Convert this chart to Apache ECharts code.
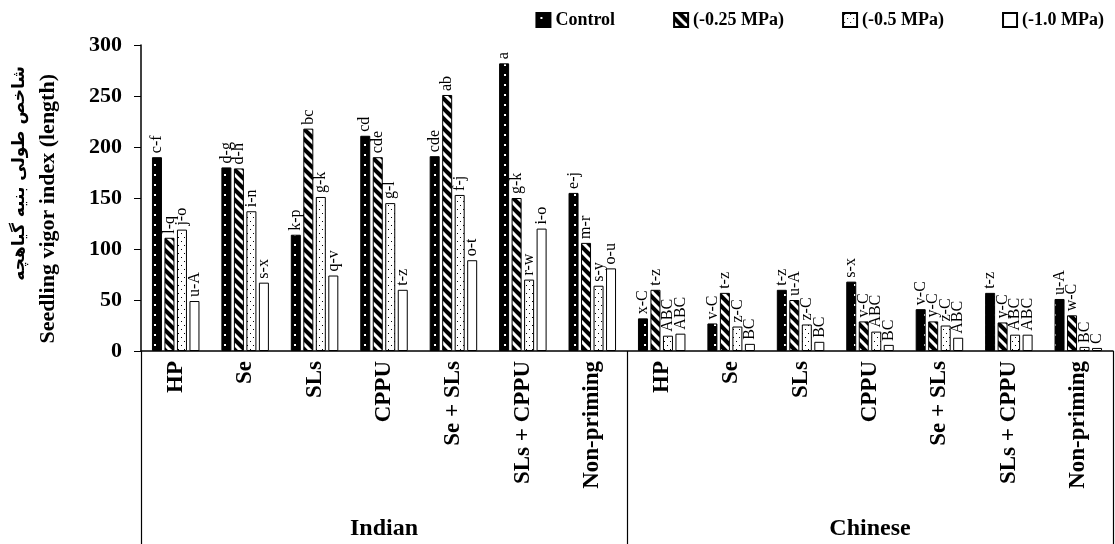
<!DOCTYPE html>
<html>
<head>
<meta charset="utf-8">
<script src="https://cdn.jsdelivr.net/npm/echarts@6/dist/echarts.min.js"></script>
<style>
  html, body { margin: 0; padding: 0; background: #fff; }
  #chart { width: 1115px; height: 544px; }
</style>
</head>
<body>
<div id="chart"></div>
<script>
var treatments = ['HP', 'Se', 'SLs', 'CPPU', 'Se + SLs', 'SLs + CPPU', 'Non-priming'];
var categories = treatments.concat(treatments);
var groups = ['Indian', 'Chinese'];

// seedling vigor index (length), Indian first then Chinese
var control = [190, 180, 114, 211, 191, 282, 155, 32, 27, 60, 68, 41, 57, 51];
var mpa025  = [111, 179, 218, 190, 251, 150, 106, 60, 57, 50, 29, 29, 28, 35];
var mpa05   = [119, 137, 151, 145, 153, 70, 64, 15, 24, 26, 19, 25, 16, 4];
var mpa10   = [49, 67, 74, 60, 89, 120, 81, 17, 7, 9, 6, 13, 16, 3];

// mean comparison letters
var letControl = ['c-f', 'd-g', 'k-p', 'cd', 'cde', 'a', 'e-j', 'x-C', 'v-C', 't-z', 's-x', 'v-C', 't-z', 'u-A'];
var let025     = ['l-q', 'd-h', 'bc', 'cde', 'ab', 'g-k', 'm-r', 't-z', 't-z', 'u-A', 'v-C', 'y-C', 'y-C', 'w-C'];
var let05      = ['j-o', 'i-n', 'g-k', 'g-l', 'f-j', 'r-w', 's-y', 'ABC', 'z-C', 'z-C', 'ABC', 'z-C', 'ABC', 'BC'];
var let10      = ['u-A', 's-x', 'q-v', 't-z', 'o-t', 'i-o', 'o-u', 'ABC', 'BC', 'BC', 'BC', 'ABC', 'ABC', 'C'];

var FONT = '"Liberation Serif", "Times New Roman", "DejaVu Serif", serif';

// fill patterns for the bars
function makePattern(kind) {
    var c = document.createElement('canvas');
    var ctx = c.getContext('2d');
    if (kind == 'blackdots') {
        c.width = 10; c.height = 10;
        ctx.fillStyle = '#000'; ctx.fillRect(0, 0, 10, 10);
        ctx.fillStyle = '#fff'; ctx.fillRect(4, 4, 2, 2);
    } else if (kind == 'hatch') {
        c.width = 10; c.height = 10;
        ctx.fillStyle = '#000'; ctx.fillRect(0, 0, 10, 10);
        ctx.strokeStyle = '#fff'; ctx.lineWidth = 3;
        ctx.beginPath();
        ctx.moveTo(-3, -3); ctx.lineTo(13, 13);
        ctx.moveTo(-13, -3); ctx.lineTo(3, 13);
        ctx.moveTo(7, -3); ctx.lineTo(23, 13);
        ctx.stroke();
    } else if (kind == 'whitedots') {
        c.width = 6; c.height = 8;
        ctx.fillStyle = '#fff'; ctx.fillRect(0, 0, 6, 8);
        ctx.fillStyle = '#000';
        ctx.fillRect(1, 1, 1, 1);
        ctx.fillRect(4, 5, 1, 1);
    } else {
        c.width = 4; c.height = 4;
        ctx.fillStyle = '#fff'; ctx.fillRect(0, 0, 4, 4);
    }
    return { image: c, repeat: 'repeat' };
}

function makeSeries(name, data, letters, kind) {
    return {
        name: name,
        type: 'bar',
        data: data,
        barWidth: 10,
        barGap: '25%',
        itemStyle: { color: makePattern(kind), borderColor: '#000', borderWidth: 1 },
        label: {
            show: true,
            position: 'top',
            rotate: 90,
            align: 'left',
            verticalAlign: 'middle',
            distance: 4,
            fontFamily: FONT,
            fontSize: 16,
            color: '#000',
            formatter: function (p) { return letters[p.dataIndex]; }
        }
    };
}

var myChart = echarts.init(document.getElementById('chart'));

var option = {
    animation: false,
    backgroundColor: '#fff',
    legend: {
        right: 6,
        top: 6,
        itemWidth: 14,
        itemHeight: 14,
        itemGap: 58,
        icon: 'rect',
        textStyle: { fontFamily: FONT, fontSize: 18, fontWeight: 'bold', color: '#000' },
        data: ['Control', '(-0.25 MPa)', '(-0.5 MPa)', '(-1.0 MPa)']
    },
    grid: { left: 141, right: 2, top: 45, bottom: 193 },
    graphic: [
        {
            type: 'text', x: 20, y: 66, rotation: Math.PI / 2,
            style: {
                text: 'شاخص طولی بنیه گیاهچه', align: 'right', verticalAlign: 'middle',
                font: 'bold 17px "DejaVu Sans", sans-serif', fill: '#000'
            }
        },
        {
            type: 'text', x: 48, y: 74, rotation: Math.PI / 2,
            style: {
                text: 'Seedling vigor index (length)', align: 'right', verticalAlign: 'middle',
                font: 'bold 22px ' + FONT, fill: '#000'
            }
        }
    ],
    xAxis: [
        {
            type: 'category',
            data: categories,
            axisLine: { lineStyle: { color: '#000', width: 1.5 } },
            axisTick: { show: false },
            axisLabel: {
                rotate: 90, margin: 10, interval: 0,
                fontFamily: FONT, fontSize: 23, fontWeight: 'bold', color: '#000'
            }
        },
        {
            type: 'category',
            data: groups,
            position: 'bottom',
            axisLine: { show: false },
            axisTick: { show: true, length: 200, lineStyle: { color: '#000', width: 1.2 } },
            axisLabel: {
                margin: 166,
                fontFamily: FONT, fontSize: 24, fontWeight: 'bold', color: '#000'
            }
        }
    ],
    yAxis: {
        type: 'value',
        min: 0,
        max: 300,
        interval: 50,
        splitLine: { show: false },
        axisLine: { show: true, lineStyle: { color: '#000', width: 1.5 } },
        axisTick: { show: true, length: 7, lineStyle: { color: '#000' } },
        axisLabel: { margin: 19, fontFamily: FONT, fontSize: 22, fontWeight: 'bold', color: '#000' }
    },
    series: [
        makeSeries('Control', control, letControl, 'blackdots'),
        makeSeries('(-0.25 MPa)', mpa025, let025, 'hatch'),
        makeSeries('(-0.5 MPa)', mpa05, let05, 'whitedots'),
        makeSeries('(-1.0 MPa)', mpa10, let10, 'white')
    ]
};

myChart.setOption(option);
</script>
</body>
</html>
